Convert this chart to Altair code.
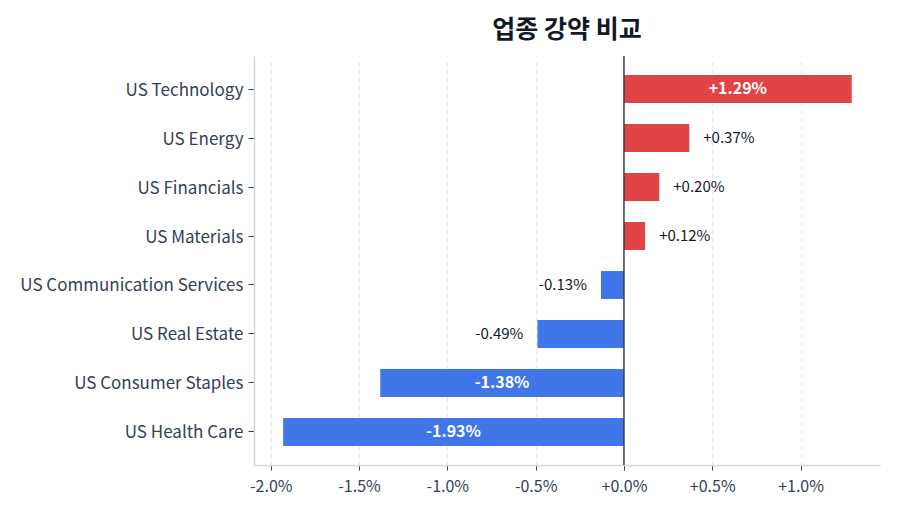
import altair as alt
import pandas as pd

# Sector daily change, in percent
sectors = [
    "US Technology",
    "US Energy",
    "US Financials",
    "US Materials",
    "US Communication Services",
    "US Real Estate",
    "US Consumer Staples",
    "US Health Care",
]
changes = [1.29, 0.37, 0.20, 0.12, -0.13, -0.49, -1.38, -1.93]
x_ticks = [-2.0, -1.5, -1.0, -0.5, 0.0, 0.5, 1.0]

FONT = "Noto Sans CJK KR"
RED = "#E04444"
BLUE = "#4076E8"

df = pd.DataFrame({"sector": sectors, "change": changes})
df["label"] = [f"{v:+.2f}%" for v in changes]
df["half"] = df["change"] / 2
df["inside"] = df["change"].abs() >= 1.0

x_scale = alt.Scale(domain=[-2.095, 1.45], nice=False, zero=False)
y_scale = alt.Scale(domain=sectors, paddingInner=0.43, paddingOuter=0.39)

base = alt.Chart(df)

bars = base.mark_bar().encode(
    x=alt.X(
        "change:Q",
        scale=x_scale,
        title=None,
        axis=alt.Axis(
            values=x_ticks,
            labelExpr="(datum.value < 0 ? '-' : '+') + format(abs(datum.value), '.1f') + '%'",
            grid=True,
            gridColor="#e5e7eb",
            gridDash=[4, 4],
            domainColor="#d1d5db",
            domainWidth=1.5,
            tickColor="#334155",
            tickSize=5,
            labelFontSize=16,
            labelColor="#334155",
            labelFont=FONT,
            labelPadding=8,
        ),
    ),
    y=alt.Y(
        "sector:N",
        scale=y_scale,
        sort=sectors,
        title=None,
        axis=alt.Axis(
            domainColor="#d1d5db",
            domainWidth=1.5,
            tickColor="#334155",
            tickSize=6,
            labelFontSize=17,
            labelColor="#334155",
            labelFont=FONT,
            labelPadding=5,
            labelOffset=1.5,
            labelLimit=300,
        ),
    ),
    color=alt.condition("datum.change >= 0", alt.value(RED), alt.value(BLUE)),
)

zero_line = alt.Chart(pd.DataFrame({"z": [0]})).mark_rule(
    color="#334155", strokeWidth=1.5
).encode(x=alt.X("z:Q", scale=x_scale))

inside_text = base.transform_filter("datum.inside").mark_text(
    color="white", fontWeight="bold", fontSize=16, font=FONT, baseline="middle"
).encode(
    x=alt.X("half:Q", scale=x_scale),
    y=alt.Y("sector:N", scale=y_scale, sort=sectors),
    text="label:N",
)

pos_text = base.transform_filter("!datum.inside && datum.change > 0").mark_text(
    color="#111827", fontSize=15, font=FONT, align="left", dx=14, baseline="middle"
).encode(
    x=alt.X("change:Q", scale=x_scale),
    y=alt.Y("sector:N", scale=y_scale, sort=sectors),
    text="label:N",
)

neg_text = base.transform_filter("!datum.inside && datum.change < 0").mark_text(
    color="#111827", fontSize=15, font=FONT, align="right", dx=-14, baseline="middle"
).encode(
    x=alt.X("change:Q", scale=x_scale),
    y=alt.Y("sector:N", scale=y_scale, sort=sectors),
    text="label:N",
)

chart = (
    alt.layer(bars, zero_line, inside_text, pos_text, neg_text)
    .properties(
        width=626,
        height=409,
        view=alt.ViewBackground(stroke="transparent", strokeWidth=0),
        title=alt.TitleParams(
            "업종 강약 비교",
            font=FONT,
            fontSize=25,
            fontWeight="bold",
            color="#111827",
            anchor="middle",
            offset=12,
        ),
        autosize=alt.AutoSizeParams(type="none"),
        padding={"left": 254, "top": 56, "right": 20, "bottom": 49},
    )
    .configure_view(stroke="transparent", strokeWidth=0)
    .configure(background="white")
)

chart.save("out.html", embed_options={"renderer": "svg", "actions": False})
